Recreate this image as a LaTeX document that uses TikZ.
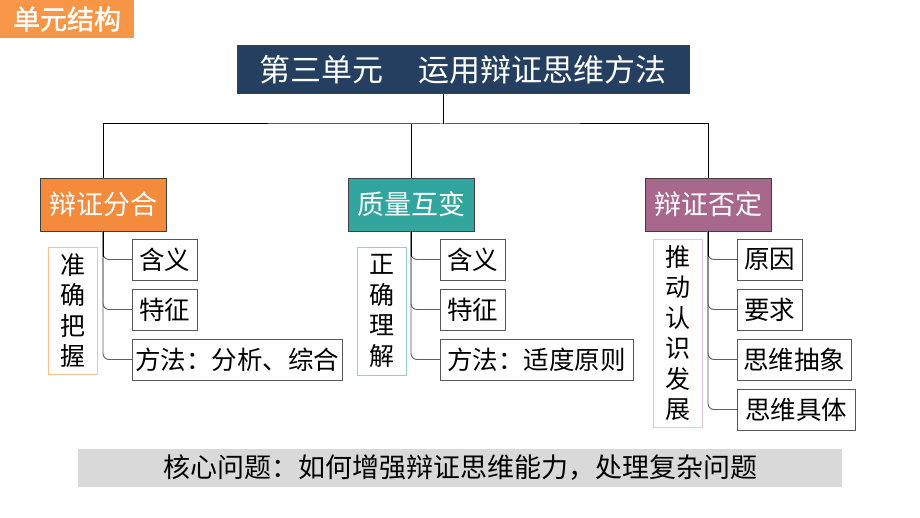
\documentclass[tikz,border=0pt]{standalone}
\usepackage{fontspec}
\newfontfamily\cjk{Noto Sans CJK SC}
\newfontfamily\cjkb[FakeBold=1.5]{Noto Sans CJK SC}
\definecolor{tagorange}{HTML}{F79646}
\definecolor{navy}{HTML}{243F60}
\definecolor{borange}{HTML}{F48A3C}
\definecolor{bteal}{HTML}{31A59E}
\definecolor{bmauve}{HTML}{A8688C}
\definecolor{lorange}{HTML}{FAC090}
\definecolor{lteal}{HTML}{92D0CC}
\definecolor{lpink}{HTML}{E6C8D8}
\definecolor{banner}{HTML}{D9D9D9}
\definecolor{edge}{HTML}{404040}
\begin{document}
\begin{tikzpicture}[x=1pt,y=-1pt,
  every node/.style={inner sep=0pt,outer sep=0pt},
  topbox/.style={draw=edge,line width=1pt,fill=navy,text=white,font=\cjk\fontsize{31}{34}\selectfont,anchor=north west},
  catbox/.style={draw=edge,line width=0.8pt,text=white,font=\cjk\fontsize{27}{30}\selectfont,minimum width=126pt,minimum height=53pt,anchor=north west},
  itembox/.style={draw=gray!70!black,line width=0.8pt,fill=white,font=\cjk\fontsize{25.5}{28}\selectfont,minimum height=41pt,anchor=north west},
  vbox/.style={draw,line width=0.8pt,fill=white,font=\cjk\fontsize{25}{30.5}\selectfont,align=center,anchor=north west},
  trunk/.style={draw=black,line width=1pt},
  branch/.style={draw=gray!75!black,line width=0.9pt,rounded corners=6pt}
]
\useasboundingbox (0,0) rectangle (920,518);
\fill[white] (0,0) rectangle (920,518);

% tag
\node[fill=tagorange,text=white,font=\cjkb\fontsize{27}{30}\selectfont,minimum width=134pt,minimum height=38pt,anchor=north west] (tag) at (0,0) {单元结构};

% title
\node[topbox,minimum width=452pt,minimum height=48pt] (title) at (237,46) {第三单元\hspace{1.1em}运用辩证思维方法};
\coordinate (hub) at (443,124);

% categories
\node[catbox,fill=borange] (b1) at (40,178) {辩证分合};
\node[catbox,fill=bteal] (b2) at (348,178) {质量互变};
\node[catbox,fill=bmauve] (b3) at (645,178) {辩证否定};

\draw[trunk] (hub |- title.south) -- (hub);
\draw[trunk] (b1.north) |- (hub) -| (b3.north);
\draw[trunk] (b2.north) -- (b2.north |- hub);

% items group 1
\node[itembox,minimum width=65pt] (c11) at (132,239) {含义};
\node[itembox,minimum width=65pt] (c12) at (132,289) {特征};
\node[itembox,minimum width=210pt] (c13) at (132,339) {方法：分析、综合};
\node[vbox,draw=lorange,minimum width=49pt,minimum height=127pt] (v1) at (48,247) {准\\确\\把\\握};

% items group 2
\node[itembox,minimum width=65pt] (c21) at (440,239) {含义};
\node[itembox,minimum width=65pt] (c22) at (440,289) {特征};
\node[itembox,minimum width=193pt] (c23) at (440,339) {方法：适度原则};
\node[vbox,draw=lteal,minimum width=49pt,minimum height=128pt] (v2) at (357,247) {正\\确\\理\\解};

% items group 3
\node[itembox,minimum width=65pt] (c31) at (737,239) {原因};
\node[itembox,minimum width=65pt] (c32) at (737,289) {要求};
\node[itembox,minimum width=114pt] (c33) at (737,339) {思维抽象};
\node[itembox,minimum width=118pt] (c34) at (737,389) {思维具体};
\node[vbox,draw=lpink,minimum width=49pt,minimum height=188pt] (v3) at (653,239) {推\\动\\认\\识\\发\\展};

% branches
\foreach \c in {c11,c12,c13} \draw[branch] (b1.south) |- (\c.west);
\foreach \c in {c21,c22,c23} \draw[branch] (b2.south) |- (\c.west);
\foreach \c in {c31,c32,c33,c34} \draw[branch] (b3.south) |- (\c.west);
\draw[trunk] (b1.south) -- ++(0,26);
\draw[trunk] (b2.south) -- ++(0,26);
\draw[trunk] (b3.south) -- ++(0,26);

% banner
\node[fill=banner,minimum width=764pt,minimum height=38pt,anchor=north west,font=\cjk\fontsize{27}{30}\selectfont] (core) at (78,449) {核心问题：如何增强辩证思维能力，处理复杂问题};
\end{tikzpicture}
\end{document}
